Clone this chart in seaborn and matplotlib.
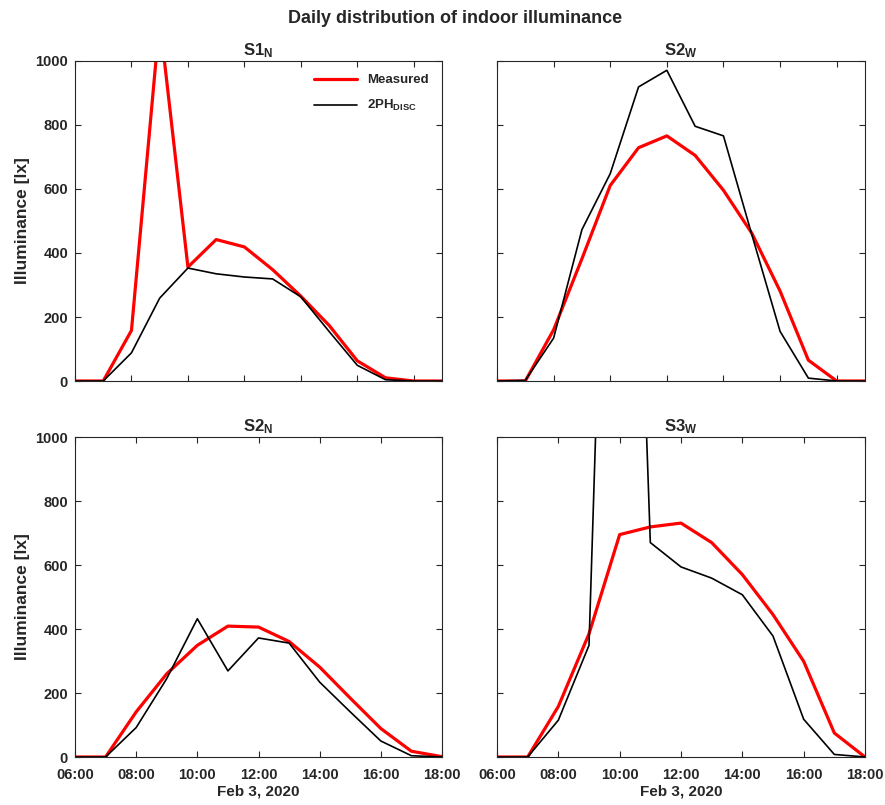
import seaborn as sns
import matplotlib.pyplot as plt
import matplotlib.font_manager as fm

# hours of day (top row runs to 19:00, bottom row to 18:00)
hours_top = [6, 7, 8, 9, 10, 11, 12, 13, 14, 15, 16, 17, 18, 19]
hours_bottom = [6, 7, 8, 9, 10, 11, 12, 13, 14, 15, 16, 17, 18]

s1n_measured = [0, 0, 158, 1130, 356, 442, 419, 348, 265, 174, 63, 10, 0, 0]
s1n_disc = [0, 0, 88, 259, 353, 335, 325, 319, 263, 155, 49, 4, 0, 0]

s2w_measured = [0, 0, 160, 382, 611, 729, 766, 705, 596, 462, 281, 65, 0, 0]
s2w_disc = [0, 2, 134, 473, 648, 919, 971, 796, 766, 458, 155, 9, 0, 0]

s2n_measured = [0, 0, 141, 260, 349, 409, 406, 361, 281, 184, 89, 18, 1]
s2n_disc = [0, 0, 92, 245, 432, 269, 372, 356, 234, 141, 50, 4, 0]

s3w_measured = [0, 0, 158, 385, 695, 719, 731, 670, 570, 445, 299, 75, 0]
s3w_disc = [0, 0, 115, 349, 3400, 670, 594, 559, 507, 378, 118, 8, 0]

tick_hours = [6, 8, 10, 12, 14, 16, 18]
tick_labels = ["06:00", "08:00", "10:00", "12:00", "14:00", "16:00", "18:00"]
y_ticks = [0, 200, 400, 600, 800, 1000]

sns.set_style("ticks")
names = {f.name for f in fm.fontManager.ttflist}
fam = ["Liberation Sans Narrow", "DejaVu Sans"] if "Liberation Sans Narrow" in names else ["Liberation Sans", "DejaVu Sans"]
plt.rcParams["font.family"] = fam
plt.rcParams["font.weight"] = "bold"
plt.rcParams["mathtext.default"] = "regular"

fig = plt.figure(figsize=(8.85, 8.05), dpi=100)
W, H = 885, 805
rects = {
    "tl": (75, 61, 367, 320),
    "tr": (497, 61, 368, 320),
    "bl": (75, 437, 367, 320),
    "br": (497, 437, 368, 320),
}

panels = [
    ("tl", "S1$_{N}$", hours_top, s1n_measured, s1n_disc, 19),
    ("tr", "S2$_{W}$", hours_top, s2w_measured, s2w_disc, 19),
    ("bl", "S2$_{N}$", hours_bottom, s2n_measured, s2n_disc, 18),
    ("br", "S3$_{W}$", hours_bottom, s3w_measured, s3w_disc, 18),
]

edge = "#262626"
for key, title, hrs, meas, disc, xmax in panels:
    x0, y0, w, h = rects[key]
    ax = fig.add_axes([x0 / W, 1 - (y0 + h) / H, w / W, h / H])
    first = key == "tl"
    sns.lineplot(x=hrs, y=meas, ax=ax, color="#ff0000", lw=2.3,
                 label="Measured" if first else None, legend=False)
    sns.lineplot(x=hrs, y=disc, ax=ax, color="black", lw=1.2,
                 label="2PH$_{DISC}$" if first else None, legend=False)
    ax.set_xlim(6, xmax)
    ax.set_ylim(0, 1000)
    ax.set_xticks(tick_hours)
    ax.set_yticks(y_ticks)
    ax.tick_params(direction="in", top=True, right=True, length=4,
                   width=0.8, color=edge, labelsize=10.5, pad=5)
    ax.tick_params(axis="x", pad=8)
    for sp in ax.spines.values():
        sp.set_color(edge)
        sp.set_linewidth(0.8)
    ax.set_title(title, fontsize=12, fontweight="bold", pad=4)
    if key in ("tl", "bl"):
        ax.set_ylabel("Illuminance [lx]", fontsize=12.5, fontweight="bold")
        ax.set_yticklabels([str(v) for v in y_ticks])
    else:
        ax.set_ylabel("")
        ax.set_yticklabels([])
    if key in ("bl", "br"):
        ax.set_xticklabels(tick_labels)
        ax.set_xlabel("Feb 3, 2020", fontsize=11, fontweight="bold", labelpad=2)
    else:
        ax.set_xticklabels([])
        ax.set_xlabel("")
    for lab in ax.get_xticklabels() + ax.get_yticklabels():
        lab.set_fontweight("bold")
    if first:
        ax.legend(loc="upper right", frameon=False,
                  handlelength=3.2, borderaxespad=0.6, labelspacing=0.9,
                  prop={"weight": "bold", "size": 9.5})

fig.suptitle("Daily distribution of indoor illuminance", x=0.514, y=0.988,
             fontsize=13, fontweight="bold")

fig.savefig("out.png", dpi=100)
